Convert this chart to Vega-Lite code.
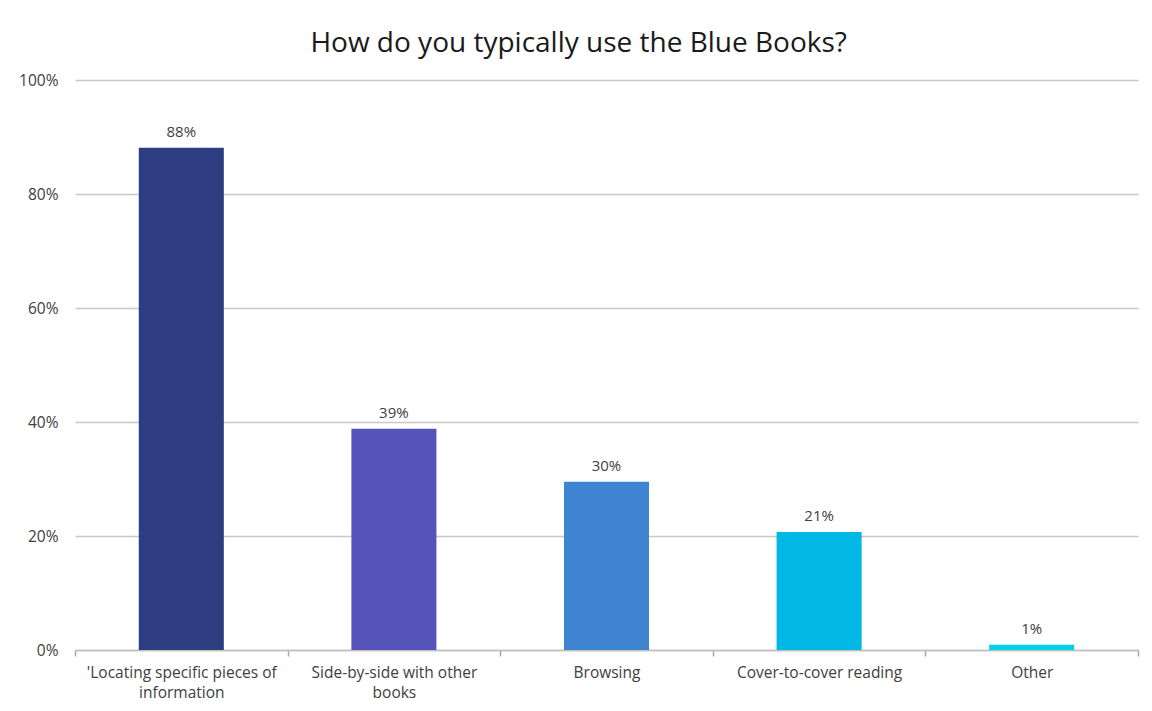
{
  "$schema": "https://vega.github.io/schema/vega-lite/v6.json",
  "autosize": "none",
  "width": 1063,
  "height": 570,
  "padding": {"left": 75, "top": 80, "right": 14, "bottom": 61},
  "background": "white",
  "title": {
    "text": "How do you typically use the Blue Books?",
    "anchor": "middle",
    "frame": "bounds",
    "font": "Open Sans",
    "fontSize": 28,
    "fontWeight": "normal",
    "color": "#1a1a1a",
    "offset": 15
  },
  "data": {
    "values": [
      {"use": "'Locating specific pieces of|information", "pct": 0.881},
      {"use": "Side-by-side with other|books", "pct": 0.388},
      {"use": "Browsing", "pct": 0.295},
      {"use": "Cover-to-cover reading", "pct": 0.207},
      {"use": "Other", "pct": 0.009}
    ]
  },
  "encoding": {
    "x": {
      "field": "use",
      "type": "nominal",
      "sort": null,
      "scale": {"paddingInner": 0.6, "paddingOuter": 0.3},
      "axis": {
        "title": null,
        "labelAngle": 0,
        "labelExpr": "split(datum.label, '|')",
        "labelFont": "Open Sans",
        "labelFontSize": 15.5,
        "labelColor": "#404040",
        "labelLineHeight": 20,
        "labelPadding": 9,
        "labelLimit": 260,
        "domainColor": "#bfbfbf",
        "domainWidth": 1.5,
        "ticks": true,
        "tickColor": "#a6a6a6",
        "tickWidth": 1.5,
        "bandPosition": 2.5,
        "tickOffset": -63.78,
        "labelOffset": 63.78,
        "tickExtra": true,
        "tickSize": 6,
        "grid": false
      }
    },
    "y": {
      "field": "pct",
      "type": "quantitative",
      "scale": {"domain": [0, 1], "nice": false},
      "axis": {
        "title": null,
        "format": ".0%",
        "values": [0, 0.2, 0.4, 0.6, 0.8, 1],
        "labelFont": "Open Sans",
        "labelFontSize": 15.5,
        "labelColor": "#404040",
        "labelPadding": 17,
        "domain": false,
        "ticks": false,
        "gridColor": "#c8c8c8",
        "gridWidth": 1.5
      }
    }
  },
  "layer": [
    {
      "mark": {"type": "bar"},
      "encoding": {
        "color": {
          "field": "use",
          "type": "nominal",
          "sort": null,
          "scale": {"range": ["#2E3C80", "#5654BA", "#3F84D0", "#00B8E3", "#00D2E6"]},
          "legend": null
        }
      }
    },
    {
      "mark": {"type": "text", "baseline": "alphabetic", "dy": -11, "font": "Open Sans", "fontSize": 15, "color": "#404040"},
      "encoding": {
        "text": {"field": "pct", "type": "quantitative", "format": ".0%"}
      }
    }
  ],
  "config": {"view": {"stroke": null}}
}
